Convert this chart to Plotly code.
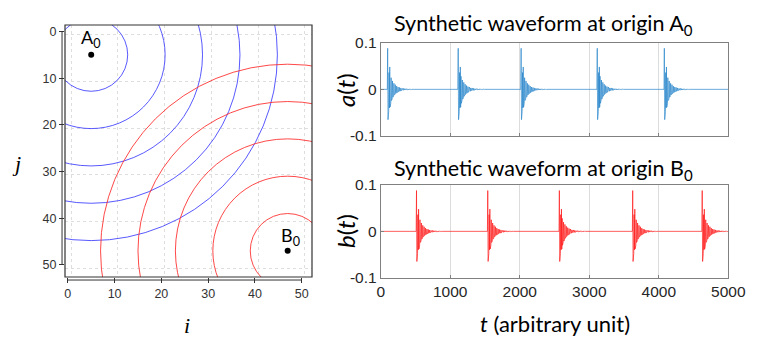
import numpy as np
import plotly.graph_objects as go

# --- left panel: source points and contour radii
src_names = ['A<sub>0</sub>', 'B<sub>0</sub>']
src_i = [5, 47]
src_j = [5, 47]
radii_a = [7.8, 15.8, 23.8, 31.8, 39.8]
radii_b = [8.0, 16.0, 24.0, 32.0, 40.0]
grid_pos = [0.7, 10.7, 20.7, 30.7, 40.7, 50.7]

# --- right panels: one burst shape (dt = 5) and burst onset times
dt = 5
burst = [0.088, -0.065, 0.055, -0.048, 0.036, -0.040, 0.048, -0.038, 0.028, -0.030,
         0.025, -0.024, 0.020, -0.021, 0.018, -0.017, 0.015, -0.015, 0.013, -0.012,
         0.011, -0.011, 0.010, -0.009, 0.008, -0.008, 0.007, -0.007, 0.006, -0.006,
         0.005, -0.005, 0.005, -0.004, 0.004, -0.004, 0.003, -0.003, 0.003, -0.003,
         0.003, -0.002, 0.002, -0.002, 0.002, -0.002, 0.002, -0.0015, 0.0015, -0.0015,
         0.0015, -0.0012, 0.0012, -0.0012, 0.001, -0.001, 0.001, -0.001, 0.0008, -0.0008,
         0.0008, -0.0008, 0.0006, -0.0006, 0.0006, -0.0006, 0.0005, -0.0005, 0.0004, -0.0004,
         0.0004, -0.0004, 0.0003, -0.0003]
onsets_a = [100, 1115, 2020, 3115, 4080]
onsets_b = [518, 1540, 2570, 3625, 4625]

t = np.arange(0, 5001, dt)


def waveform(onsets):
    y = np.zeros(len(t))
    for t0 in onsets:
        k = t0 // dt
        n = min(len(burst), len(t) - k)
        y[k:k + n] = burst[:n]
    return y


a_t = waveform(onsets_a)
b_t = waveform(onsets_b)

# page body adds an 8px margin, so place things 8px up/left
W, H, OFF = 771, 351, 8


def px(x):
    return (x - OFF) / W


def py(y):
    return 1 - (y - OFF) / H


fig = go.Figure()

# left contour map
shapes = []
for radii, cx, cy, col in [(radii_a, src_i[0], src_j[0], 'rgba(60,60,255,0.85)'),
                           (radii_b, src_i[1], src_j[1], 'rgba(255,40,40,0.85)')]:
    for r in radii:
        shapes.append(dict(type='circle', xref='x', yref='y',
                           x0=cx - r, x1=cx + r, y0=cy - r, y1=cy + r,
                           line=dict(color=col, width=1)))
# box around left panel
shapes.append(dict(type='rect', xref='x domain', yref='y domain', x0=0, x1=1, y0=0, y1=1,
                   line=dict(color='#333', width=1.2)))
# detached R-style axis lines
shapes.append(dict(type='line', xref='x', yref='y domain', x0=0, x1=50, y0=-0.012, y1=-0.012,
                   line=dict(color='#333', width=1)))
shapes.append(dict(type='line', xref='x domain', yref='y', x0=-0.012, x1=-0.012, y0=0, y1=50,
                   line=dict(color='#333', width=1)))

fig.add_trace(go.Scatter(x=src_i, y=src_j, mode='markers',
                         marker=dict(color='black', size=6), showlegend=False,
                         xaxis='x', yaxis='y'))

fig.add_trace(go.Scatter(x=t, y=a_t, mode='lines', line=dict(color='#2a86cc', width=0.7),
                         showlegend=False, xaxis='x2', yaxis='y2'))
fig.add_trace(go.Scatter(x=t, y=b_t, mode='lines', line=dict(color='#ff1a1a', width=0.7),
                         showlegend=False, xaxis='x3', yaxis='y3'))

tick_font = dict(family='Liberation Sans, Arial', size=12.5, color='#333')
left_ax = dict(tickvals=[0, 10, 20, 30, 40, 50], ticks='outside', ticklen=5, tickcolor='#333',
               showgrid=False, zeroline=False, showline=False, tickfont=tick_font,
               automargin=False,
               minor=dict(tickvals=grid_pos, showgrid=True, gridcolor='#dedede',
                          griddash='dot', gridwidth=1, ticks=''))

mat_font = dict(family='Liberation Sans, Arial', size=15.5, color='#262626')
right_x = dict(range=[0, 5000], tickvals=[0, 1000, 2000, 3000, 4000, 5000], showgrid=True,
               gridcolor='#dcdcdc', zeroline=False, showline=True, mirror=True,
               linecolor='#808080', ticks='inside', ticklen=3, tickcolor='#808080',
               tickfont=mat_font, automargin=False)
right_y = dict(range=[-0.1, 0.1], tickvals=[-0.1, 0, 0.1], ticktext=['-0.1', '0', '0.1'],
               showgrid=False, zeroline=False, showline=True, mirror=True,
               linecolor='#808080', ticks='inside', ticklen=3, tickcolor='#808080',
               tickfont=mat_font, automargin=False)

fig.update_layout(
    width=W, height=H, autosize=False,
    margin=dict(l=0, r=0, t=0, b=0, pad=0, autoexpand=False),
    paper_bgcolor='white', plot_bgcolor='white', showlegend=False,
    shapes=shapes,
    xaxis=dict(domain=[px(65), px(312)], range=[-0.6, 52.2], **left_ax),
    yaxis=dict(domain=[py(277), py(25)], range=[52.6, -1.4], **left_ax),
    xaxis2=dict(domain=[px(380.7), px(728.3)], anchor='y2', showticklabels=False, **right_x),
    yaxis2=dict(domain=[py(136), py(42.7)], anchor='x2', **right_y),
    xaxis3=dict(domain=[px(380.7), px(728.3)], anchor='y3', **right_x),
    yaxis3=dict(domain=[py(277.7), py(185)], anchor='x3', **right_y),
)

title_font = dict(family='Lato, Open Sans', size=21.5, color='black')
label_font = dict(family='Lato, Open Sans', size=24, color='black')
serif = dict(family='Liberation Serif, Times New Roman', size=22, color='black')
ann = [
    dict(x=src_i[0], y=src_j[0] - 3.4, xref='x', yref='y', text=src_names[0],
         font=dict(family='Lato, Open Sans', size=18, color='black')),
    dict(x=src_i[1] + 0.5, y=src_j[1] - 3.0, xref='x', yref='y', text=src_names[1],
         font=dict(family='Lato, Open Sans', size=18, color='black')),
    dict(x=px(187), y=py(325), text='<i>i</i>', font=serif),
    dict(x=px(16), y=py(163), text='<i>j</i>', font=serif),
    dict(x=px(543), y=py(24), text='Synthetic waveform at origin A<sub>0</sub>',
         font=title_font),
    dict(x=px(543), y=py(169), text='Synthetic waveform at origin B<sub>0</sub>',
         font=title_font),
    dict(x=px(345), y=py(90), text='<i>a</i>(<i>t</i>)', textangle=-90, font=label_font),
    dict(x=px(345), y=py(231), text='<i>b</i>(<i>t</i>)', textangle=-90, font=label_font),
    dict(x=px(555), y=py(323), text='<i>t</i> (arbitrary unit)', font=dict(label_font, size=22)),
]
for a in ann:
    a.setdefault('xref', 'paper')
    a.setdefault('yref', 'paper')
    a['showarrow'] = False
    a['xanchor'] = 'center'
    a['yanchor'] = 'middle'
fig.update_layout(annotations=ann)

fig.write_html("out.html")
